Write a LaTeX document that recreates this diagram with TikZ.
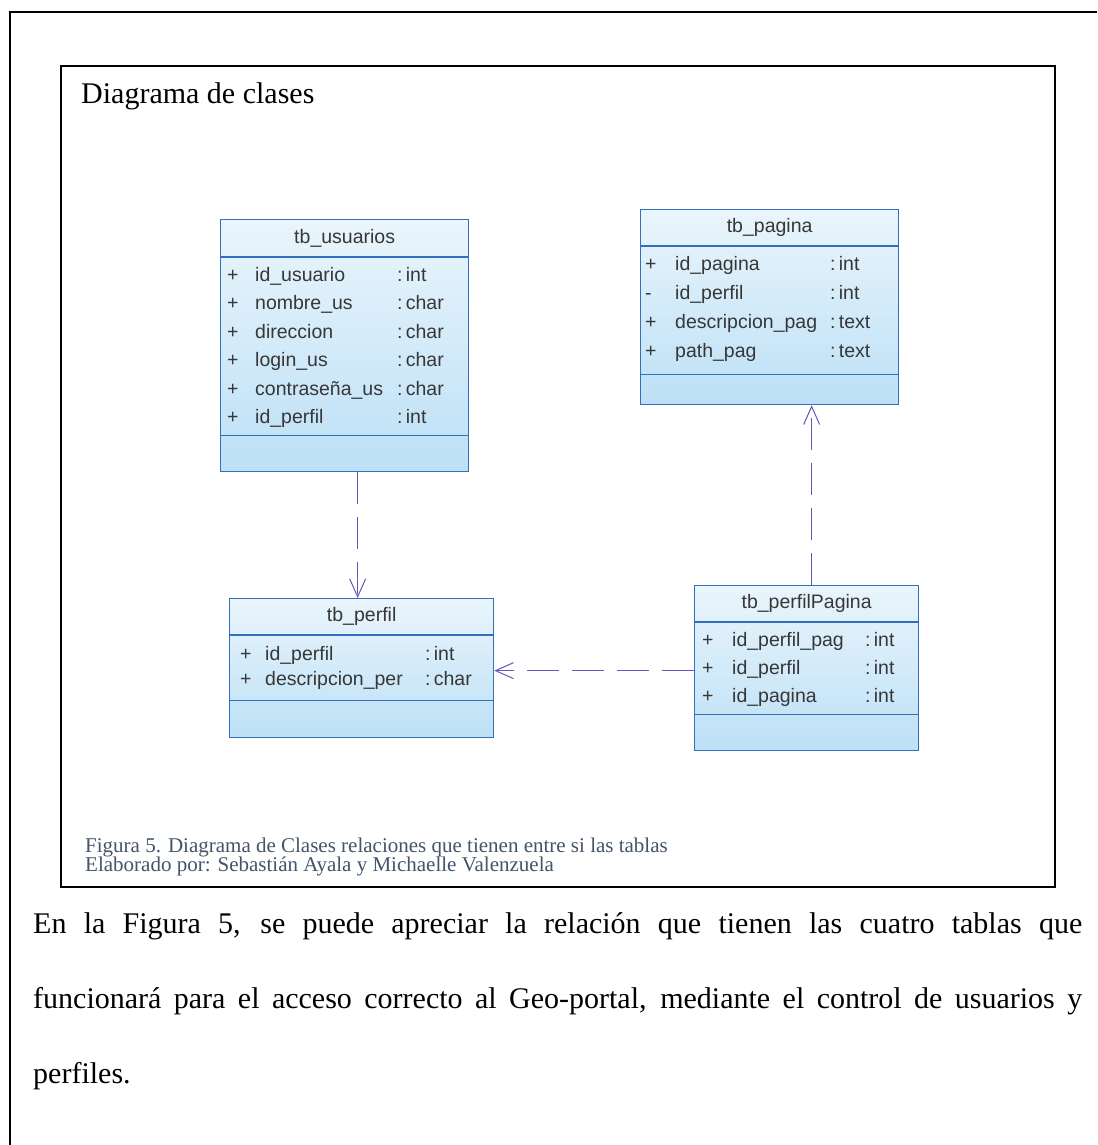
\documentclass[tikz,border=0pt]{standalone}
\usepackage{fontspec}
\setmainfont{Liberation Serif}
\newfontfamily\clsfont{Liberation Sans}
\usepackage{xcolor}
\usetikzlibrary{positioning,arrows.meta}

\definecolor{clsborde}{RGB}{52,110,190}
\definecolor{clsarriba}{RGB}{234,245,252}
\definecolor{clsabajo}{RGB}{188,224,246}
\definecolor{clstexto}{RGB}{55,55,55}
\definecolor{flecha}{RGB}{98,88,184}
\definecolor{pie}{RGB}{68,84,106}

\begin{document}
\begin{tikzpicture}[
  x=1pt, y=-1pt,
  tabla/.style={draw=clsborde, line width=1.3pt, top color=clsarriba, bottom color=clsabajo, anchor=north west, inner sep=0pt},
  cab/.style={font=\clsfont\fontsize{19.5}{22}\selectfont, text=clstexto, inner sep=0pt},
  fila/.style={font=\clsfont\fontsize{19.5}{22}\selectfont, text=clstexto, anchor=base west, inner sep=0pt},
  sep/.style={draw=clsborde, line width=1.3pt},
  dep/.style={draw=flecha, line width=1pt, dash pattern=on 32pt off 13pt, -{Straight Barb[length=18pt,width=16pt]}},
  texto/.style={anchor=base west, inner sep=0pt, font=\fontsize{30}{36}\selectfont}
]
  \useasboundingbox[fill=white] (0,0) rectangle (1097,1145);
  \draw[line width=1.4pt] (10,1145) -- (10,12) -- (1097,12);
  \draw[line width=1.6pt] (61,66) rectangle (1055,887);
  \node[texto] (titulo) at (81,103) {Diagrama de clases};

  % tablas
  \node[tabla, minimum width=248pt, minimum height=252pt] (usr) at (220,219) {};
  \node[tabla, minimum width=258pt, minimum height=195pt] (pag) at (640,209) {};
  \node[tabla, minimum width=264pt, minimum height=139pt] (perf) at (229,598) {};
  \node[tabla, minimum width=224pt, minimum height=165pt] (pp) at (694,585) {};
  \draw[sep] ([yshift=-38pt]usr.north west) -- ([yshift=-38pt]usr.north east);
  \draw[sep] ([yshift=37pt]usr.south west) -- ([yshift=37pt]usr.south east);
  \draw[sep] ([yshift=-37pt]pag.north west) -- ([yshift=-37pt]pag.north east);
  \draw[sep] ([yshift=31pt]pag.south west) -- ([yshift=31pt]pag.south east);
  \draw[sep] ([yshift=-37pt]perf.north west) -- ([yshift=-37pt]perf.north east);
  \draw[sep] ([yshift=38pt]perf.south west) -- ([yshift=38pt]perf.south east);
  \draw[sep] ([yshift=-37pt]pp.north west) -- ([yshift=-37pt]pp.north east);
  \draw[sep] ([yshift=37pt]pp.south west) -- ([yshift=37pt]pp.south east);

  \node[cab] (usr-t) at ([yshift=-19pt]usr.north) {tb\_usuarios};
  \node[cab] (pag-t) at ([yshift=-18.5pt]pag.north) {tb\_pagina};
  \node[cab] (perf-t) at ([yshift=-18.5pt]perf.north) {tb\_perfil};
  \node[cab] (pp-t) at ([yshift=-18.5pt]pp.north) {tb\_perfilPagina};

  \node[fila] (usr-1) at (227,281) {\makebox[28pt][l]{+}\makebox[142pt][l]{id\_usuario}:\,int};
  \node[fila] (usr-2) at (227,309.5) {\makebox[28pt][l]{+}\makebox[142pt][l]{nombre\_us}:\,char};
  \node[fila] (usr-3) at (227,338) {\makebox[28pt][l]{+}\makebox[142pt][l]{direccion}:\,char};
  \node[fila] (usr-4) at (227,366.5) {\makebox[28pt][l]{+}\makebox[142pt][l]{login\_us}:\,char};
  \node[fila] (usr-5) at (227,395) {\makebox[28pt][l]{+}\makebox[142pt][l]{contraseña\_us}:\,char};
  \node[fila] (usr-6) at (227,423.5) {\makebox[28pt][l]{+}\makebox[142pt][l]{id\_perfil}:\,int};

  \node[fila] (pag-1) at (645,270) {\makebox[30pt][l]{+}\makebox[155pt][l]{id\_pagina}:\,int};
  \node[fila] (pag-2) at (645,299) {\makebox[30pt][l]{-}\makebox[155pt][l]{id\_perfil}:\,int};
  \node[fila] (pag-3) at (645,328) {\makebox[30pt][l]{+}\makebox[155pt][l]{descripcion\_pag}:\,text};
  \node[fila] (pag-4) at (645,357) {\makebox[30pt][l]{+}\makebox[155pt][l]{path\_pag}:\,text};

  \node[fila] (perf-1) at (240,660) {\makebox[25pt][l]{+}\makebox[160pt][l]{id\_perfil}:\,int};
  \node[fila] (perf-2) at (240,685) {\makebox[25pt][l]{+}\makebox[160pt][l]{descripcion\_per}:\,char};

  \node[fila] (pp-1) at (702,646) {\makebox[30pt][l]{+}\makebox[133pt][l]{id\_perfil\_pag}:\,int};
  \node[fila] (pp-2) at (702,674) {\makebox[30pt][l]{+}\makebox[133pt][l]{id\_perfil}:\,int};
  \node[fila] (pp-3) at (702,702) {\makebox[30pt][l]{+}\makebox[133pt][l]{id\_pagina}:\,int};

  % dependencias
  \draw[dep] ([xshift=13pt]usr.south) -- ([xshift=-4pt]perf.north);
  \draw[dep] ([xshift=5pt]pp.north) -- ([xshift=5pt]pp.north |- pag.south);
  \draw[dep] ([yshift=-2.5pt]pp.west) -- ([yshift=-2.5pt]pp.west -| perf.east);

  % pie de figura y texto
  \node[anchor=base west, inner sep=0pt, text=pie, font=\fontsize{21}{21}\selectfont] (fig) at (85,852) {Figura 5. Diagrama de Clases relaciones que tienen entre si las tablas};
  \node[anchor=base west, inner sep=0pt, text=pie, font=\fontsize{21}{21}\selectfont] (elab) at (85,871) {Elaborado por: Sebastián Ayala y Michaelle Valenzuela};
  \node[texto] (parr1) at (33,933) {\makebox[1049pt][s]{En la Figura 5, se puede apreciar la relación que tienen las cuatro tablas que}};
  \node[texto] (parr2) at (33,1008) {\makebox[1049pt][s]{funcionará para el acceso correcto al Geo-portal, mediante el control de usuarios y}};
  \node[texto] (parr3) at (33,1083) {perfiles.};
\end{tikzpicture}
\end{document}
